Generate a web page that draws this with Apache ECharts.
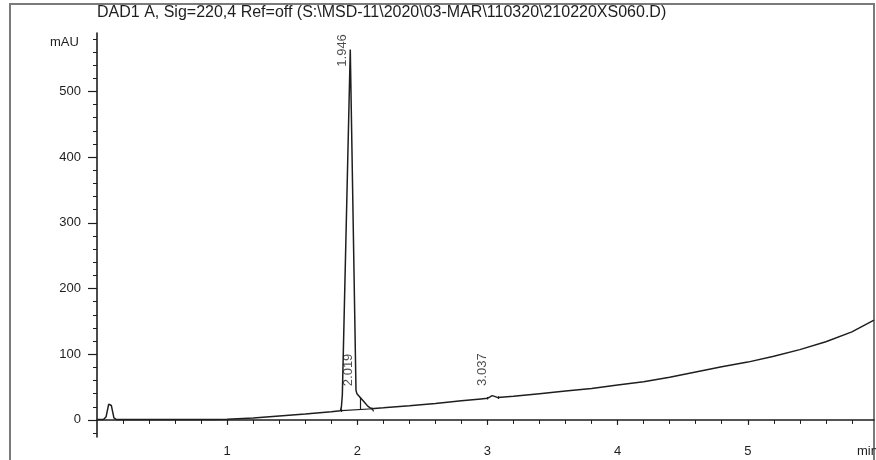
<!DOCTYPE html>
<html>
<head>
<meta charset="utf-8">
<script src="https://cdn.jsdelivr.net/npm/echarts@6/dist/echarts.min.js"></script>
<style>
  html, body { margin: 0; padding: 0; background: #fff; }
  #chart { width: 876px; height: 460px; }
</style>
</head>
<body>
<div id="chart"></div>
<script>
// DAD1 A signal, retention time (min) vs absorbance (mAU)
const timeMin = [0, 0.05, 0.07, 0.09, 0.1, 0.11, 0.13, 0.15, 0.5, 0.9, 1.0, 1.2, 1.4, 1.6, 1.8, 1.87,
  1.878, 1.885, 1.946, 1.99, 1.997, 2.019, 2.05, 2.08, 2.11, 2.13, 2.2, 2.4, 2.6, 2.8, 2.95, 3.0,
  3.02, 3.037, 3.06, 3.08, 3.2, 3.4, 3.6, 3.8, 4.0, 4.2, 4.4, 4.6, 4.8, 5.0, 5.2, 5.4, 5.6, 5.8, 5.97];
const signal = [0.5, 0.5, 5, 24, 27, 22, 3, 0.5, 0.5, 0.5, 1, 3, 6, 9, 12.5, 14,
  20, 38, 564, 45, 40, 35, 28, 21, 17, 17.5, 18.5, 21.5, 25, 29, 32, 33,
  35, 37, 35.5, 34, 36, 40, 44, 48, 53, 58, 65, 73, 81, 88, 97, 107, 119, 134, 152];

// integrated peaks: retention times and apex heights
const peakTimes = [1.946, 2.019, 3.037];
const peakHeights = [564, 35, 37];

// integration baseline, drop line and baseline tick marks
const baseSegments = [
  [[1.878, 14], [2.12, 17]],
  [[2.019, 35], [2.019, 15.7]],
  [[1.878, 17], [1.878, 12]],
  [[2.11, 19], [2.125, 13]],
  [[3.0, 35], [3.0, 31]],
  [[3.08, 36], [3.08, 32]]
];

const yMajor = [0, 100, 200, 300, 400, 500];
const yMinor = [-20, 20, 40, 60, 80, 120, 140, 160, 180, 220, 240, 260, 280, 320, 340, 360, 380,
  420, 440, 460, 480, 520, 540, 560, 580];
const xMajor = [1, 2, 3, 4, 5];
const xMinor = [0.2, 0.4, 0.6, 0.8, 1.2, 1.4, 1.6, 1.8, 2.2, 2.4, 2.6, 2.8, 3.2, 3.4, 3.6, 3.8,
  4.2, 4.4, 4.6, 4.8, 5.2, 5.4, 5.6, 5.8];

const titleText = 'DAD1 A, Sig=220,4 Ref=off (S:\\MSD-11\\2020\\03-MAR\\110320\\210220XS060.D)';

const ink = '#1e1e1e';
const font = 'Liberation Sans';
const yMin = -26, yMax = 589, xMin = 0, xMax = 5.97;

// label offsets are given in the rotated text frame
const labelOffsets = [[-1, -8], [27, -11], [26, -10]];

const chart = echarts.init(document.getElementById('chart'));
chart.setOption({
  animation: false,
  backgroundColor: '#fff',
  title: {
    text: titleText,
    left: 97, top: 5, padding: 0,
    textStyle: { fontFamily: font, fontSize: 16, fontWeight: 'normal', color: ink }
  },
  grid: { left: 97, right: 2, top: 33, bottom: 23 },
  xAxis: [{
    type: 'value', min: xMin, max: xMax,
    axisLine: { lineStyle: { color: ink, width: 1.6 } },
    axisTick: { customValues: xMajor, length: 5, lineStyle: { color: ink, width: 1.2 } },
    axisLabel: { customValues: xMajor, margin: 8, fontFamily: font, fontSize: 13, color: ink },
    splitLine: { show: false }
  }, {
    type: 'value', min: xMin, max: xMax, position: 'bottom',
    axisLine: { show: false },
    axisTick: { customValues: xMinor, length: 4, lineStyle: { color: ink } },
    axisLabel: { show: false },
    splitLine: { show: false }
  }],
  yAxis: [{
    type: 'value', min: yMin, max: yMax,
    axisLine: { show: true, lineStyle: { color: ink, width: 1.6 } },
    axisTick: { show: true, customValues: yMajor, length: 9, lineStyle: { color: ink, width: 1.2 } },
    axisLabel: { customValues: yMajor, margin: 16, fontFamily: font, fontSize: 13, color: ink },
    splitLine: { show: false }
  }, {
    type: 'value', min: yMin, max: yMax, position: 'left',
    axisLine: { show: false },
    axisTick: { show: true, customValues: yMinor, length: 4, lineStyle: { color: ink } },
    axisLabel: { show: false },
    splitLine: { show: false }
  }],
  graphic: [
    {
      type: 'rect', silent: true,
      shape: { x: 10, y: 4, width: 864, height: 470 },
      style: { fill: 'none', stroke: '#7a7a7a', lineWidth: 2 }
    },
    {
      type: 'text', silent: true, left: 50, top: 36,
      style: { text: 'mAU', fontFamily: font, fontSize: 13, fill: ink }
    },
    {
      type: 'text', silent: true, left: 857, top: 445,
      style: { text: 'min', fontFamily: font, fontSize: 13, fill: ink }
    }
  ],
  series: [
    {
      type: 'line', xAxisIndex: 0, yAxisIndex: 0,
      data: timeMin.map((t, i) => [t, signal[i]]),
      showSymbol: false, smooth: false,
      lineStyle: { color: ink, width: 1.5 }
    },
    {
      type: 'lines', coordinateSystem: 'cartesian2d', xAxisIndex: 0, yAxisIndex: 0,
      data: baseSegments.map(c => ({ coords: c })),
      lineStyle: { color: ink, width: 1.2, opacity: 1 }
    },
    {
      type: 'scatter', xAxisIndex: 0, yAxisIndex: 0, symbolSize: 0,
      data: peakTimes.map((t, i) => ({
        value: [t, peakHeights[i]],
        label: { offset: labelOffsets[i] }
      })),
      label: {
        show: true, position: 'inside', rotate: 90,
        formatter: p => p.value[0].toFixed(3),
        fontFamily: font, fontSize: 13, color: ink,
        textBorderWidth: 0
      }
    }
  ]
});
</script>
</body>
</html>
